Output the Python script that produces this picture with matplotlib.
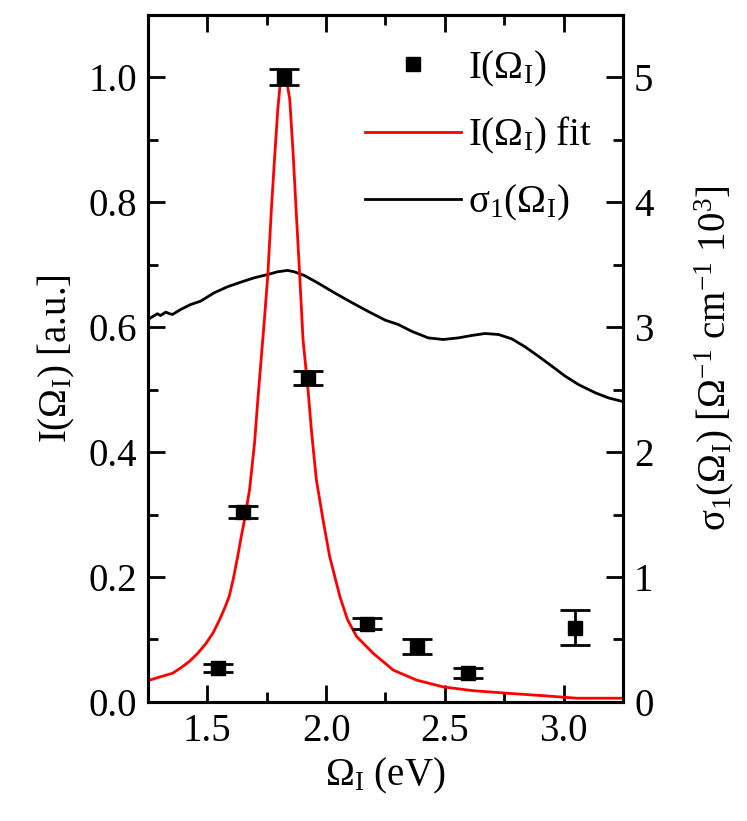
import matplotlib
matplotlib.use("Agg")
from matplotlib import pyplot as plt
from matplotlib.lines import Line2D

plt.rcParams['font.family'] = ['Liberation Serif', 'DejaVu Serif']
plt.rcParams['mathtext.fontset'] = 'custom'
plt.rcParams['mathtext.rm'] = 'Liberation Serif'
plt.rcParams['mathtext.it'] = 'Liberation Serif:italic'
plt.rcParams['mathtext.default'] = 'regular'

# measured intensity points with error bars
omega_pts = [1.543, 1.649, 1.821, 1.922, 2.174, 2.381, 2.598, 3.050]
intensity = [0.054, 0.304, 1.000, 0.518, 0.125, 0.089, 0.047, 0.119]
int_err = [0.006, 0.009, 0.013, 0.011, 0.009, 0.012, 0.008, 0.028]

# fit curve
fit_x = [1.249, 1.300, 1.354, 1.390, 1.425, 1.460, 1.495, 1.525, 1.551, 1.575,
         1.593, 1.610, 1.628, 1.643, 1.657, 1.678, 1.699, 1.713, 1.727, 1.741,
         1.755, 1.770, 1.783, 1.797, 1.807, 1.818, 1.833, 1.847, 1.861, 1.875,
         1.888, 1.903, 1.924, 1.938, 1.959, 1.987, 2.015, 2.058, 2.090, 2.128,
         2.198, 2.283, 2.381, 2.494, 2.620, 2.761, 2.930, 3.056, 3.246]
fit_y = [0.034, 0.040, 0.046, 0.055, 0.065, 0.078, 0.094, 0.111, 0.131, 0.152,
         0.170, 0.198, 0.233, 0.265, 0.292, 0.340, 0.415, 0.485, 0.550, 0.615,
         0.685, 0.790, 0.869, 0.950, 0.990, 1.008, 0.997, 0.965, 0.880, 0.780,
         0.690, 0.580, 0.500, 0.436, 0.356, 0.292, 0.233, 0.169, 0.132, 0.105,
         0.078, 0.051, 0.035, 0.024, 0.018, 0.014, 0.0096, 0.006, 0.006]

# optical conductivity (right axis)
sig_x = [1.250, 1.269, 1.290, 1.303, 1.325, 1.339, 1.353, 1.388, 1.430, 1.472,
         1.529, 1.585, 1.641, 1.698, 1.754, 1.796, 1.838, 1.866, 1.909, 1.965,
         2.035, 2.105, 2.176, 2.250, 2.304, 2.360, 2.430, 2.493, 2.557, 2.613,
         2.669, 2.726, 2.782, 2.838, 2.894, 2.951, 3.007, 3.063, 3.134, 3.190,
         3.246]
sig_y = [3.061, 3.083, 3.107, 3.093, 3.120, 3.109, 3.101, 3.141, 3.181, 3.208,
         3.275, 3.323, 3.360, 3.395, 3.421, 3.443, 3.454, 3.443, 3.413, 3.354,
         3.275, 3.200, 3.127, 3.055, 3.021, 2.967, 2.914, 2.901, 2.914, 2.933,
         2.949, 2.941, 2.906, 2.842, 2.767, 2.687, 2.607, 2.540, 2.474, 2.433,
         2.406]

fig = plt.figure(figsize=(7.47, 8.21), dpi=100)
ax1 = fig.add_axes([0.198, 0.145, 0.636, 0.837])
ax2 = ax1.twinx()
ax1.set_zorder(ax2.get_zorder() + 1)
ax1.patch.set_visible(False)

ax2.plot(sig_x, sig_y, color='black', lw=2)
ax1.plot(fit_x, fit_y, color='red', lw=2)
ax1.errorbar(omega_pts, intensity, yerr=int_err, fmt='s', color='black',
             ms=10, capsize=11, elinewidth=2, capthick=2)

ax1.set_xlim(1.25, 3.25)
ax1.set_ylim(0, 1.1)
ax2.set_ylim(0, 5.5)
ax1.set_xticks([1.5, 2.0, 2.5, 3.0])
ax1.set_xticks([1.25, 1.75, 2.25, 2.75], minor=True)
ax1.set_yticks([0, 0.2, 0.4, 0.6, 0.8, 1.0])
ax1.set_yticks([0.1, 0.3, 0.5, 0.7, 0.9], minor=True)
ax2.set_yticks([0, 1, 2, 3, 4, 5])
ax2.set_yticks([0.5, 1.5, 2.5, 3.5, 4.5], minor=True)
ax1.set_yticklabels(['0.0', '0.2', '0.4', '0.6', '0.8', '1.0'])
ax1.set_xticklabels(['1.5', '2.0', '2.5', '3.0'])

for ax in (ax1, ax2):
    ax.tick_params(which='major', direction='in', length=12, width=2, labelsize=28, pad=8)
    ax.tick_params(which='minor', direction='in', length=7, width=2)
    for sp in ax.spines.values():
        sp.set_linewidth(2.2)
ax1.tick_params(axis='x', which='both', top=True)

ax1.set_xlabel(r'$\Omega_I$ (eV)', fontsize=28, labelpad=4)
ax1.set_ylabel(r'I($\Omega_I$) [a.u.]', fontsize=28, labelpad=8)
ax2.set_ylabel(r'$\sigma_1$($\Omega_I$) [$\Omega^{-1}$ cm$^{-1}$ 10$^3$]',
               fontsize=28, labelpad=28)

handles = [Line2D([], [], ls='none', marker='s', color='black', ms=10),
           Line2D([], [], color='red', lw=2),
           Line2D([], [], color='black', lw=2)]
labels = [r'I($\Omega_I$)', r'I($\Omega_I$) fit', r'$\sigma_1$($\Omega_I$)']
ax1.legend(handles, labels, loc='upper right', frameon=False, fontsize=28,
           handlelength=2.45, handletextpad=0.2, labelspacing=0.68,
           bbox_to_anchor=(0.985, 0.985), borderaxespad=0.2)

fig.savefig("out.png", dpi=100)
